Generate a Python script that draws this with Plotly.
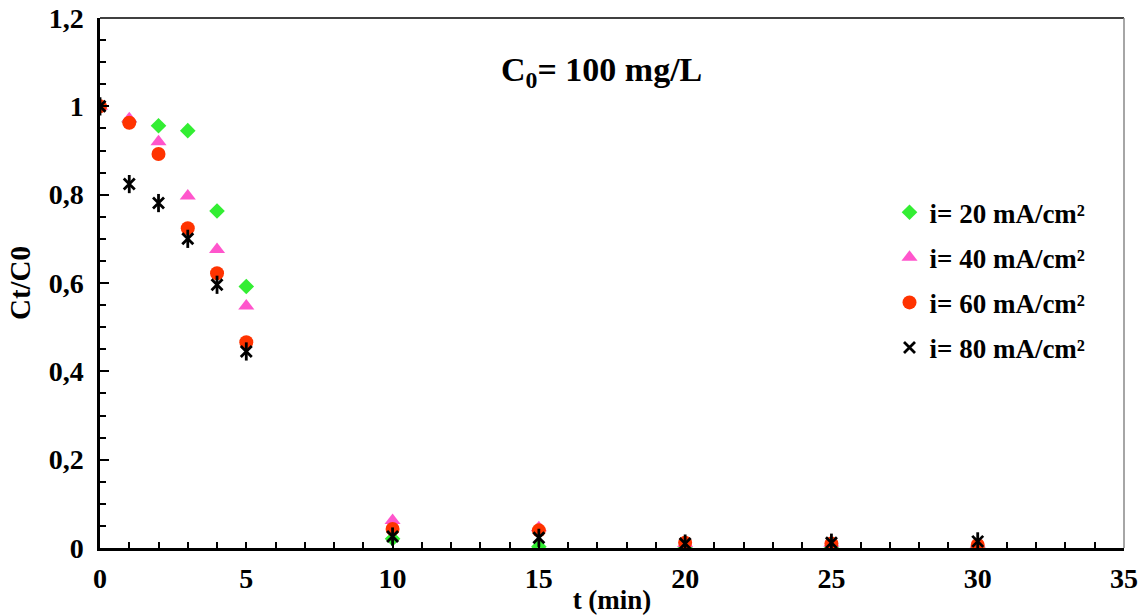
import plotly.graph_objects as go

# Electrolysis time (min)
t_min = [0, 1, 2, 3, 4, 5, 10, 15, 20, 25, 30]

# Normalised concentration Ct/C0 for each current density
ct_20 = [1.0, 0.965, 0.956, 0.945, 0.763, 0.592, 0.021, 0.003, 0.0, 0.0, 0.0]
ct_40 = [1.0, 0.972, 0.920, 0.797, 0.676, 0.548, 0.062, 0.046, 0.010, 0.011, 0.009]
ct_60 = [1.0, 0.963, 0.892, 0.724, 0.622, 0.466, 0.043, 0.040, 0.012, 0.010, 0.007]
ct_80 = [1.0, 0.824, 0.781, 0.700, 0.596, 0.445, 0.026, 0.023, 0.010, 0.012, 0.015]

series_names = ["i= 20 mA/cm²", "i= 40 mA/cm²", "i= 60 mA/cm²", "i= 80 mA/cm²"]

x_ticks = [0, 5, 10, 15, 20, 25, 30, 35]
y_ticks = [0, 0.2, 0.4, 0.6, 0.8, 1.0, 1.2]

FONT = "Liberation Serif"

fig = go.Figure()

fig.add_trace(go.Scatter(
    x=t_min, y=ct_20, mode="markers", name=series_names[0], legendgroup="a",
    marker=dict(symbol="diamond", size=12, color="#33EE33", line=dict(width=0)),
))
fig.add_trace(go.Scatter(
    x=t_min, y=ct_40, mode="markers", name=series_names[1], legendgroup="b",
    marker=dict(symbol="triangle-up", size=14, color="#FF55CC", line=dict(width=0)),
))
fig.add_trace(go.Scatter(
    x=t_min, y=ct_60, mode="markers", name=series_names[2], legendgroup="c",
    marker=dict(symbol="circle", size=14, color="#FF3300", line=dict(width=0)),
))
# six-armed star: an x plus a vertical stroke
fig.add_trace(go.Scatter(
    x=t_min, y=ct_80, mode="markers", name=series_names[3], legendgroup="d",
    marker=dict(symbol="x-thin-open", size=11, color="black", line=dict(width=2.8, color="black")),
))
fig.add_trace(go.Scatter(
    x=t_min, y=ct_80, mode="markers", showlegend=False, legendgroup="d", hoverinfo="skip",
    marker=dict(symbol="line-ns-open", size=13, color="black", line=dict(width=2.8, color="black")),
))

fig.update_layout(
    width=1142, height=615,
    margin=dict(l=100, r=18, t=18, b=67, autoexpand=False),
    paper_bgcolor="white", plot_bgcolor="white",
    separators=", ",
    font=dict(family=FONT, size=26, color="black"),
    showlegend=True,
    legend=dict(
        x=0.771, y=0.679, xanchor="left", yanchor="top",
        font=dict(family=FONT, size=27, color="black", weight="bold"),
        bgcolor="rgba(0,0,0,0)", tracegroupgap=7, itemwidth=30,
    ),
    xaxis=dict(
        range=[0, 35], tickvals=x_ticks, ticks="inside", ticklen=6, tickwidth=2,
        tickcolor="black", showline=True, linecolor="black", linewidth=2.5,
        showgrid=False, zeroline=False, automargin=False,
        minor=dict(dtick=1, ticks="inside", ticklen=6, tickwidth=1.5, tickcolor="black"),
        tickfont=dict(family=FONT, size=28, color="black", weight="bold"),
        ticklabelstandoff=4, ticklabeloverflow="allow",
        title=dict(text="t (min)", font=dict(family=FONT, size=27, weight="bold"), standoff=0),
    ),
    yaxis=dict(
        range=[0, 1.2], tickvals=y_ticks, ticks="inside", ticklen=9, tickwidth=2,
        tickcolor="black", showline=True, linecolor="black", linewidth=2.5,
        showgrid=False, zeroline=False, automargin=False,
        minor=dict(dtick=0.05, ticks="inside", ticklen=6, tickwidth=1.5, tickcolor="black"),
        tickfont=dict(family=FONT, size=28, color="black", weight="bold"),
        title=dict(text="Ct/C0", font=dict(family=FONT, size=29, weight="bold"), standoff=10),
        ticklabelstandoff=8, ticklabeloverflow="allow",
    ),
    annotations=[dict(
        text="C<sub>0</sub>= 100 mg/L", x=0.49, y=0.941, xref="paper", yref="paper",
        showarrow=False, font=dict(family=FONT, size=34, color="black", weight="bold"),
    )],
    shapes=[
        dict(type="line", xref="paper", yref="paper", x0=0, x1=1, y0=1, y1=1,
             line=dict(color="black", width=1.5)),
        dict(type="line", xref="paper", yref="paper", x0=1, x1=1, y0=0, y1=1,
             line=dict(color="#888888", width=1.5)),
    ],
)

fig.write_html("out.html")
